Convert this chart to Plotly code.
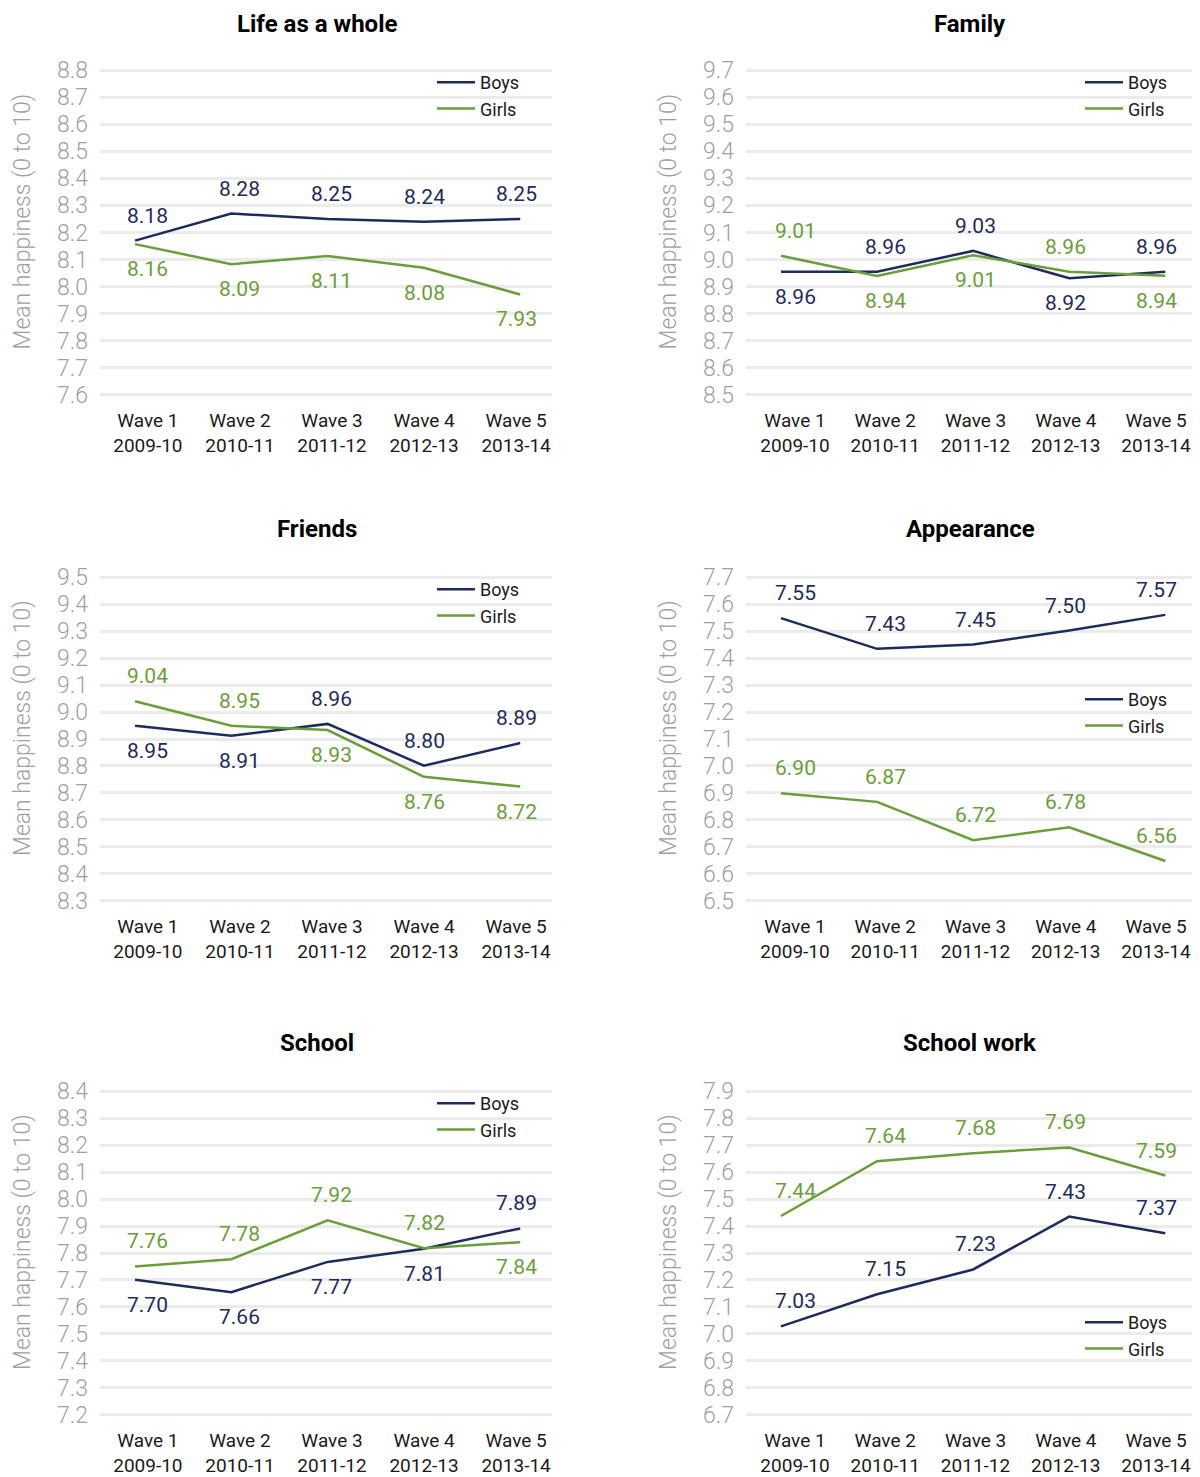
import plotly.graph_objects as go

# ---------------- data ----------------
waves = ["Wave 1", "Wave 2", "Wave 3", "Wave 4", "Wave 5"]
years = ["2009-10", "2010-11", "2011-12", "2012-13", "2013-14"]
series_names = ["Boys", "Girls"]

panel_titles = ["Life as a whole", "Family", "Friends", "Appearance", "School", "School work"]
y_ranges = [(7.6, 8.8), (8.5, 9.7), (8.3, 9.5), (6.5, 7.7), (7.2, 8.4), (6.7, 7.9)]

life_boys = [8.17, 8.27, 8.25, 8.24, 8.25]
life_girls = [8.157, 8.083, 8.113, 8.07, 7.971]
life_boys_labels = [8.18, 8.28, 8.25, 8.24, 8.25]
life_girls_labels = [8.16, 8.09, 8.11, 8.08, 7.93]

family_boys = [8.955, 8.955, 9.032, 8.931, 8.955]
family_girls = [9.014, 8.939, 9.016, 8.955, 8.94]
family_boys_labels = [8.96, 8.96, 9.03, 8.92, 8.96]
family_girls_labels = [9.01, 8.94, 9.01, 8.96, 8.94]

friends_boys = [8.949, 8.912, 8.956, 8.801, 8.885]
friends_girls = [9.04, 8.949, 8.933, 8.76, 8.724]
friends_boys_labels = [8.95, 8.91, 8.96, 8.80, 8.89]
friends_girls_labels = [9.04, 8.95, 8.93, 8.76, 8.72]

appearance_boys = [7.548, 7.434, 7.45, 7.502, 7.56]
appearance_girls = [6.899, 6.867, 6.725, 6.773, 6.648]
appearance_boys_labels = [7.55, 7.43, 7.45, 7.50, 7.57]
appearance_girls_labels = [6.90, 6.87, 6.72, 6.78, 6.56]

school_boys = [7.701, 7.655, 7.767, 7.816, 7.891]
school_girls = [7.75, 7.777, 7.921, 7.818, 7.84]
school_boys_labels = [7.70, 7.66, 7.77, 7.81, 7.89]
school_girls_labels = [7.76, 7.78, 7.92, 7.82, 7.84]

schoolwork_boys = [7.028, 7.147, 7.239, 7.435, 7.373]
schoolwork_girls = [7.437, 7.64, 7.67, 7.691, 7.587]
schoolwork_boys_labels = [7.03, 7.15, 7.23, 7.43, 7.37]
schoolwork_girls_labels = [7.44, 7.64, 7.68, 7.69, 7.59]

boys_values = [life_boys, family_boys, friends_boys, appearance_boys, school_boys, schoolwork_boys]
girls_values = [life_girls, family_girls, friends_girls, appearance_girls, school_girls, schoolwork_girls]
boys_labels = [life_boys_labels, family_boys_labels, friends_boys_labels,
               appearance_boys_labels, school_boys_labels, schoolwork_boys_labels]
girls_labels = [life_girls_labels, family_girls_labels, friends_girls_labels,
                appearance_girls_labels, school_girls_labels, schoolwork_girls_labels]

# ---------------- style / layout ----------------
OFF = 8                      # page body margin
W, H = 1200 - OFF, 1477 - OFF
NAVY = "#1f2b5b"
GREEN = "#6a9e3a"
GRID = "#ebebeb"
TICKGREY = "#a0a0a0"
FONT = "Roboto"


def px_x(px):
    return (px - OFF) / W


def px_y(py):
    return 1 - (py - OFF) / H


# label placement: 1 = above the point, -1 = below
boys_dir = [[1] * 5, [-1, 1, 1, -1, 1], [-1, -1, 1, 1, 1], [1] * 5, [-1, -1, -1, -1, 1], [1] * 5]
girls_dir = [[-1] * 5, [1, -1, -1, 1, -1], [1, 1, -1, -1, -1], [1] * 5, [1, 1, 1, 1, -1], [1] * 5]
LABEL_SHIFT = 25

# pixel geometry of each plot area (left, right, top, bottom) in page pixels
col_x = [(100, 552), (746, 1197)]
row_y = [(69, 396), (576, 902), (1090, 1416)]
title_top = [9, 514, 1028]
title_x = [317, 970]
ytitle_x = [22, 668]
legend_pos = [(432, 64), (1080, 64), (432, 571), (1080, 681), (432, 1085), (1080, 1304)]
LINE_RANGE = [-0.364, 4.33]                         # x range used by the lines
TICK_RANGES = [[-0.52, 4.39], [-0.543, 4.454]]      # x range used by the category labels

fig = go.Figure()
annotations = []
x_idx = list(range(len(waves)))
ticktext = [f"{w}<br>{y}" for w, y in zip(waves, years)]

for i in range(6):
    r, c = divmod(i, 2)
    n = "" if i == 0 else str(i + 1)
    nl = str(i + 7)
    xa, ya, xl = "x" + n, "y" + n, "x" + nl
    leg = "legend" + n
    x0, x1 = col_x[c]
    y0, y1 = row_y[r]
    lo, hi = y_ranges[i]
    pad = 0.004
    fig.update_layout(**{
        "xaxis" + n: dict(domain=[px_x(x0), px_x(x1)], range=TICK_RANGES[c], tickvals=x_idx,
                          ticktext=ticktext, showgrid=False, zeroline=False, showline=False,
                          ticks="", ticklabelstandoff=11,
                          tickfont=dict(family=FONT, size=19, color="#1a1a1a"),
                          anchor=ya, fixedrange=True, automargin=False),
        "xaxis" + nl: dict(domain=[px_x(x0), px_x(x1)], range=LINE_RANGE, overlaying=xa,
                           visible=False, anchor=ya, fixedrange=True),
        "yaxis" + n: dict(domain=[px_y(y1), px_y(y0)], range=[lo - pad, hi + pad],
                          tick0=lo, dtick=0.1, tickformat=".1f", showgrid=True,
                          gridcolor=GRID, gridwidth=2.5, zeroline=False, showline=False,
                          ticks="", ticklabelstandoff=11,
                          tickfont=dict(family=FONT, size=23, color=TICKGREY, weight=300),
                          anchor=xa, fixedrange=True, automargin=False),
        leg: dict(x=px_x(legend_pos[i][0]), y=px_y(legend_pos[i][1]), xanchor="left",
                  yanchor="top", bgcolor="rgba(0,0,0,0)", borderwidth=0, itemwidth=38,
                  font=dict(family=FONT, size=18, color="#1a1a1a"), tracegroupgap=0),
    })
    for name, vals, labs, dirs, col in [
        (series_names[0], boys_values[i], boys_labels[i], boys_dir[i], NAVY),
        (series_names[1], girls_values[i], girls_labels[i], girls_dir[i], GREEN),
    ]:
        fig.add_trace(go.Scatter(x=x_idx, y=vals, mode="lines", name=name,
                                 line=dict(color=col, width=2.5), xaxis=xl, yaxis=ya,
                                 legend=leg, hoverinfo="skip"))
        for xv, yv, lab, d in zip(x_idx, vals, labs, dirs):
            annotations.append(dict(x=xv, y=yv, xref=xa, yref=ya, text=f"{lab:.2f}",
                                    showarrow=False, yshift=d * LABEL_SHIFT,
                                    font=dict(family=FONT, size=21, color=col)))
    # panel title
    annotations.append(dict(x=px_x(title_x[c]), y=px_y(title_top[r]), xref="paper", yref="paper",
                            text=f"<b>{panel_titles[i]}</b>", showarrow=False,
                            xanchor="center", yanchor="top", borderpad=0,
                            font=dict(family=FONT, size=24, color="#000000", weight=800)))
    # y-axis title
    annotations.append(dict(x=px_x(ytitle_x[c]), y=px_y((y0 + y1) / 2 - 11), xref="paper",
                            yref="paper", text="Mean happiness (0 to 10)", textangle=-90,
                            showarrow=False, xanchor="center", yanchor="middle",
                            font=dict(family=FONT, size=23, color=TICKGREY, weight=300)))

fig.update_layout(width=W, height=H,
                  margin=dict(l=0, r=0, t=0, b=0, pad=0, autoexpand=False),
                  paper_bgcolor="white", plot_bgcolor="white",
                  annotations=annotations, showlegend=True)

fig.write_html("out.html", config={"displayModeBar": False})
